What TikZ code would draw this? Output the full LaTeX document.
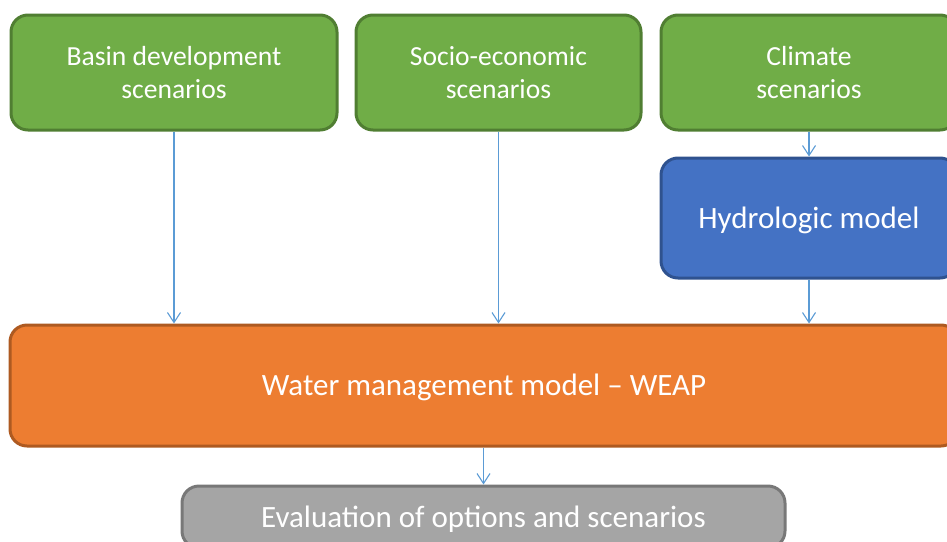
\documentclass[tikz,border=0pt]{standalone}
\usepackage{fontspec}
\setmainfont{Carlito}
\usetikzlibrary{arrows.meta}
\definecolor{gfill}{HTML}{70AD47}\definecolor{gline}{HTML}{507E32}
\definecolor{bfill}{HTML}{4472C4}\definecolor{bline}{HTML}{2F528F}
\definecolor{ofill}{HTML}{ED7D31}\definecolor{oline}{HTML}{AE5A21}
\definecolor{afill}{HTML}{A5A5A5}\definecolor{aline}{HTML}{787878}
\definecolor{arr}{HTML}{5B9BD5}
\begin{document}
\begin{tikzpicture}[x=1pt,y=-1pt,
  box/.style={rounded corners=17pt, line width=3pt, text=white, align=center, inner sep=0pt},
  gbox/.style={box, fill=gfill, draw=gline, font=\fontsize{27.6}{33}\selectfont},
  bigfont/.style={font=\fontsize{31}{37}\selectfont, text height=20pt, text depth=0pt},
  conn/.style={draw=arr, line width=1.1pt, -{Straight Barb[length=10pt,width=13pt,line width=1.1pt]}}]
\useasboundingbox (0,0) rectangle (947,541);
\begin{scope}
\clip (0,0) rectangle (947,541);
\node[gbox, minimum width=326pt, minimum height=115pt] (basin) at (174,72.5) {Basin development\\scenarios};
\node[gbox, minimum width=285pt, minimum height=115pt] (socio) at (498.5,72.5) {Socio-economic\\scenarios};
\node[gbox, minimum width=296pt, minimum height=115pt] (climate) at (809,72.5) {Climate\\scenarios};
\node[box, fill=bfill, draw=bline, minimum width=296pt, minimum height=120pt, bigfont] (hydro) at (809,218) {Hydrologic model};
\node[box, fill=ofill, draw=oline, minimum width=948pt, minimum height=121pt, bigfont] (weap) at (484,385.5) {Water management model -- WEAP};
\node[box, fill=afill, draw=aline, minimum width=603pt, minimum height=62pt, bigfont] (eval) at (483.5,517) {Evaluation of options and scenarios};
\end{scope}
\draw[conn] (basin.south) -- (basin.south |- weap.north);
\draw[conn] (socio.south) -- (socio.south |- weap.north);
\draw[conn] (climate.south) -- (hydro.north);
\draw[conn] (hydro.south) -- (hydro.south |- weap.north);
\draw[conn] (weap.south -| eval.north) -- (eval.north);
\end{tikzpicture}
\end{document}
